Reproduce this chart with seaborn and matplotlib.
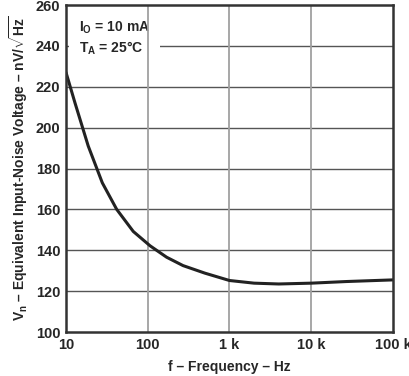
import matplotlib
matplotlib.use("Agg")
import matplotlib.pyplot as plt
import seaborn as sns
import pandas as pd

freq = [10, 12.9, 18.7, 27.8, 41.7, 66.5, 106.6, 170, 270, 500, 1000, 2000, 4000, 10000, 27000, 100000]
vn = [227, 212, 191, 173, 160, 149.2, 142.2, 136.6, 132.5, 128.8, 125.2, 123.9, 123.5, 123.9, 124.7, 125.5]
xticks = [10, 100, 1000, 10000, 100000]
xlabels = ["10", "100", "1 k", "10 k", "100 k"]
yticks = [100, 120, 140, 160, 180, 200, 220, 240, 260]

sns.set_style("white")
plt.rcParams['font.family'] = ['Liberation Sans', 'DejaVu Sans']
plt.rcParams['mathtext.fontset'] = 'custom'
plt.rcParams['mathtext.rm'] = 'Liberation Sans:bold'
plt.rcParams['mathtext.it'] = 'Liberation Sans:bold'
plt.rcParams['mathtext.bf'] = 'Liberation Sans:bold'

fig = plt.figure(figsize=(4.1, 3.76), dpi=100)
ax = fig.add_axes([0.161, 0.117, 0.7975, 0.8697])

df = pd.DataFrame({"f": freq, "vn": vn})
ax.set_xscale("log")
for t in xticks[1:-1]:
    ax.axvline(t, color="#a0a0a0", lw=1.3, zorder=2.5)
for t in yticks[1:-1]:
    ax.axhline(t, color="#555555", lw=1.0, zorder=1)

sns.lineplot(data=df, x="f", y="vn", ax=ax, color="#222222", lw=2.2, zorder=3)
ax.lines[-1].set_solid_joinstyle("round")

ax.set_xlim(10, 100000)
ax.set_ylim(100, 260)
ax.set_xticks(xticks)
ax.set_xticklabels(xlabels)
ax.set_yticks(yticks)
ax.minorticks_off()
ax.tick_params(length=0, labelsize=10.5, pad=4)
for lab in ax.get_xticklabels() + ax.get_yticklabels():
    lab.set_fontweight("bold")
for s in ax.spines.values():
    s.set_color("#333333")
    s.set_linewidth(1.8)
    s.set_zorder(5)

ax.set_xlabel("f – Frequency – Hz", fontsize=10, fontweight="bold", labelpad=6)
ax.set_ylabel(r"V$_\mathregular{n}$ – Equivalent Input-Noise Voltage – nV/$\sqrt{\mathregular{Hz}}$",
              fontsize=10, fontweight="bold", labelpad=4)

ax.text(0.04, 0.955, "I$_\\mathregular{O}$ = 10 mA\nT$_\\mathregular{A}$ = 25°C",
        transform=ax.transAxes, va="top", ha="left", fontsize=10, fontweight="bold",
        linespacing=1.3, zorder=2,
        bbox=dict(facecolor="white", edgecolor="none", pad=7))

fig.savefig("out.png", dpi=100)
